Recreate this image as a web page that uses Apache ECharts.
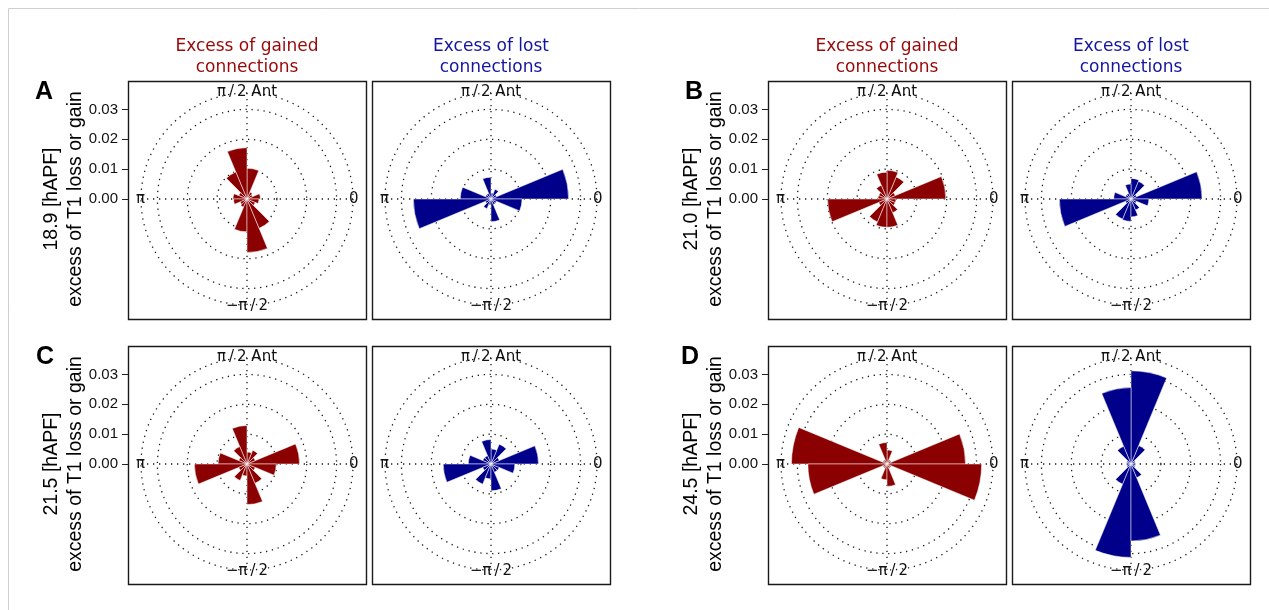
<!DOCTYPE html>
<html>
<head>
<meta charset="utf-8">
<title>T1 loss / gain roses</title>
<script src="https://cdn.jsdelivr.net/npm/echarts@6/dist/echarts.min.js"></script>
<style>
  html, body { margin: 0; padding: 0; background: #fff; }
  #chart { width: 1269px; height: 610px; }
</style>
</head>
<body>
<div id="chart"></div>
<script>
// 16 angle bins of 22.5 deg, starting at 0 (east), counter-clockwise
const bins = ['0', '22.5', '45', '67.5', '90', '112.5', '135', '157.5',
  '180', '202.5', '225', '247.5', '270', '292.5', '315', '337.5'];

// excess of T1 gain / loss per bin
const gainedA = [0.0045, 0.002, 0.0025, 0.0103, 0.0172, 0.0098, 0.003, 0.0047,
  0.0045, 0.0025, 0.003, 0.011, 0.0179, 0.0106, 0.003, 0.004];
const lostA = [0.026, 0.002, 0.0035, 0.002, 0.0073, 0.002, 0.002, 0.0103,
  0.026, 0.002, 0.0035, 0.002, 0.0076, 0.002, 0.002, 0.0104];
const gainedB = [0.0197, 0.003, 0.008, 0.0096, 0.009, 0.005, 0.003, 0.003,
  0.0199, 0.003, 0.0083, 0.0095, 0.0095, 0.005, 0.003, 0.003];
const lostB = [0.0238, 0.002, 0.0064, 0.0069, 0.005, 0.002, 0.002, 0.0058,
  0.024, 0.002, 0.0073, 0.0075, 0.006, 0.004, 0.002, 0.006];
const gainedC = [0.0176, 0.003, 0.005, 0.004, 0.0129, 0.0063, 0.003, 0.0097,
  0.0176, 0.003, 0.006, 0.004, 0.0136, 0.007, 0.003, 0.0098];
const lostC = [0.0159, 0.003, 0.0072, 0.005, 0.0082, 0.003, 0.003, 0.0076,
  0.016, 0.003, 0.0073, 0.005, 0.009, 0.003, 0.003, 0.008];
const gainedD = [0.0263, 0.0015, 0.0015, 0.0047, 0.0072, 0.0015, 0.0015, 0.032,
  0.0265, 0.0015, 0.0015, 0.0053, 0.0075, 0.0015, 0.0015, 0.0317];
const lostD = [0.0015, 0.0015, 0.0067, 0.0312, 0.0256, 0.0064, 0.0015, 0.0015,
  0.0015, 0.0015, 0.0073, 0.0313, 0.0258, 0.005, 0.0015, 0.0015];

const yTicks = [0, 0.01, 0.02, 0.03];
const angleLabels = { 0: '0', 90: 'π\u2009/\u20092 Ant', 180: 'π', 270: '\u2212π\u2009/\u20092' };
const titleGained = 'Excess of gained\nconnections';
const titleLost = 'Excess of lost\nconnections';

const panels = [
  { letter: 'A', hapf: '18.9 [hAPF]', gained: gainedA, lost: lostA },
  { letter: 'B', hapf: '21.0 [hAPF]', gained: gainedB, lost: lostB },
  { letter: 'C', hapf: '21.5 [hAPF]', gained: gainedC, lost: lostC },
  { letter: 'D', hapf: '24.5 [hAPF]', gained: gainedD, lost: lostD }
];

// layout
const RMAX = 0.0355;
const R = 106;
const BOX = 238;
const panelPos = [
  { x: 128, y: 81, lx: -84 },
  { x: 768, y: 81, lx: -74 },
  { x: 128, y: 346, lx: -83 },
  { x: 768, y: 346, lx: -78 }
];
const LOST_DX = 244;
const RED = '#8b0000';
const BLUE = '#00008b';

const chart = echarts.init(document.getElementById('chart'));

const polar = [], angleAxis = [], radiusAxis = [], series = [];
const grid = [], xAxis = [], yAxis = [];
const graphic = [{
  type: 'rect', silent: true,
  shape: { x: 8.5, y: 8.5, width: 1400, height: 800 },
  style: { fill: 'none', stroke: '#cfcfcf', lineWidth: 1 }
}];

const dotted = { color: '#1a1a1a', width: 1.3, type: [1.3, 4.7] };

function addRose(cx, cy, values, color) {
  const pg = polar.length;
  // grid polar: dotted circles and the four spokes
  polar.push({ center: [cx, cy], radius: R });
  angleAxis.push({
    polarIndex: pg, type: 'value', min: 0, max: 360, interval: 90,
    startAngle: 0, clockwise: false,
    axisLine: { show: false }, axisTick: { show: false },
    axisLabel: {
      // labels sit on the outer circle
      margin: -4, fontSize: 15, color: '#111', fontFamily: 'DejaVu Sans',
      formatter: function (v) { return angleLabels[v] ? '{v|' + angleLabels[v] + '}' : ''; },
      rich: { v: { fontSize: 15, fontFamily: 'DejaVu Sans', color: '#111', lineHeight: 10 } }
    },
    splitLine: { show: true, lineStyle: dotted }
  });
  radiusAxis.push({
    polarIndex: pg, type: 'value', min: 0, max: RMAX, interval: 0.01,
    axisLine: { show: false }, axisTick: { show: false }, axisLabel: { show: false },
    splitLine: { show: true, lineStyle: dotted }
  });
  // bar polar: 16 bins
  const pb = polar.length;
  polar.push({ center: [cx, cy], radius: R });
  angleAxis.push({
    polarIndex: pb, type: 'category', data: bins, startAngle: 0, clockwise: false,
    axisLine: { show: false }, axisTick: { show: false }, axisLabel: { show: false },
    splitLine: { show: false }
  });
  radiusAxis.push({
    polarIndex: pb, type: 'value', min: 0, max: RMAX,
    axisLine: { show: false }, axisTick: { show: false }, axisLabel: { show: false },
    splitLine: { show: false }
  });
  series.push({
    type: 'bar', coordinateSystem: 'polar', polarIndex: pb,
    data: values, barCategoryGap: '0%', silent: true, z: 5,
    itemStyle: { color: color, borderColor: '#fff', borderWidth: 0.5 }
  });
}

panels.forEach(function (p, i) {
  const pos = panelPos[i];
  const cy = pos.y + 118;
  [0, 1].forEach(function (k) {
    const bx = pos.x + k * LOST_DX;
    const cx = bx + 119;
    graphic.push({
      type: 'rect', silent: true, z: 10,
      shape: { x: bx + 0.5, y: pos.y + 0.5, width: BOX, height: BOX },
      style: { fill: 'none', stroke: '#1a1a1a', lineWidth: 1.4 }
    });
    addRose(cx, cy, k === 0 ? p.gained : p.lost, k === 0 ? RED : BLUE);
    if (i < 2) {
      graphic.push({
        type: 'text', silent: true, x: cx, y: 57,
        style: {
          text: k === 0 ? titleGained : titleLost,
          font: '17px "DejaVu Sans"', lineHeight: 21,
          fill: k === 0 ? '#980808' : '#1414a0',
          align: 'center', verticalAlign: 'middle',
          textAlign: 'center', textVerticalAlign: 'middle'
        }
      });
    }
  });

  // y scale for the gained rose: centre to the 0.03 circle
  const h = 0.03 / RMAX * R;
  grid.push({ left: pos.x, top: cy - h, width: 10, height: h });
  xAxis.push({ gridIndex: i, type: 'value', show: false });
  yAxis.push({
    gridIndex: i, type: 'value', min: yTicks[0], max: yTicks[yTicks.length - 1], interval: 0.01,
    axisLine: { show: false },
    axisTick: { show: true, length: 6, lineStyle: { color: '#222', width: 1 } },
    axisLabel: {
      margin: 10, fontSize: 15, color: '#111', fontFamily: 'Liberation Sans',
      formatter: function (v) { return v.toFixed(2); }
    },
    splitLine: { show: false }
  });

  graphic.push({
    type: 'text', silent: true, x: pos.x + pos.lx, y: pos.y + 11,
    style: {
      text: p.letter, font: 'bold 25px "Liberation Sans"', fill: '#000',
      align: 'center', verticalAlign: 'middle',
      textAlign: 'center', textVerticalAlign: 'middle'
    }
  });
  graphic.push({
    type: 'text', silent: true, x: pos.x - 64, y: cy, rotation: Math.PI / 2,
    style: {
      text: p.hapf + '\nexcess of T1 loss or gain',
      font: '19.5px "Liberation Sans"', lineHeight: 24, fill: '#000',
      align: 'center', verticalAlign: 'middle',
      textAlign: 'center', textVerticalAlign: 'middle'
    }
  });
});

chart.setOption({
  animation: false,
  backgroundColor: '#fff',
  polar: polar,
  angleAxis: angleAxis,
  radiusAxis: radiusAxis,
  grid: grid,
  xAxis: xAxis,
  yAxis: yAxis,
  series: series,
  graphic: graphic
});
</script>
</body>
</html>
